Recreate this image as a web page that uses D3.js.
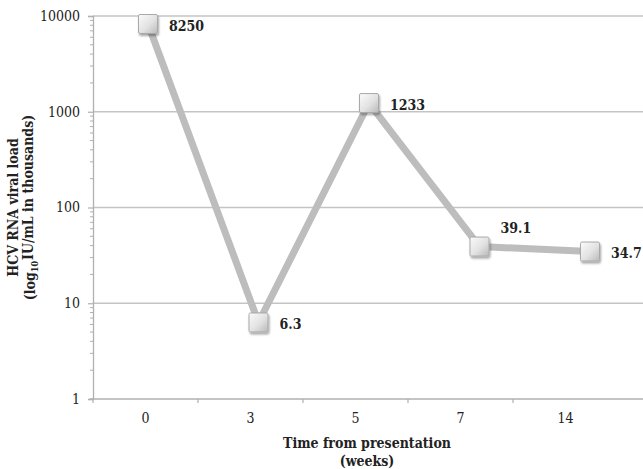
<!DOCTYPE html>
<html>
<head>
<meta charset="utf-8">
<script src="https://cdn.jsdelivr.net/npm/d3@7/dist/d3.min.js"></script>
<style>
  html, body { margin: 0; padding: 0; background: #fff; }
  svg { display: block; }
  text { font-family: "DejaVu Serif", serif; font-stretch: condensed; fill: #222; }
</style>
</head>
<body>
<svg id="chart" width="643" height="469"></svg>
<script>
const categories = ["0", "3", "5", "7", "14"];
const values = [8250, 6.3, 1233, 39.1, 34.7];
const valueLabels = ["8250", "6.3", "1233", "39.1", "34.7"];
const yTicks = [1, 10, 100, 1000, 10000];
const yTickLabels = ["1", "10", "100", "1000", "10000"];
const xTitle = ["Time from presentation", "(weeks)"];

(function () {
const W = 643, H = 469;
const mLeft = 93, mRight = 618, mTop = 16, mBottom = 399;

const svg = d3.select("#chart");

const defs = svg.append("defs");
const grad = defs.append("linearGradient").attr("id", "mg")
  .attr("x1", "0").attr("y1", "0").attr("x2", "1").attr("y2", "1");
grad.append("stop").attr("offset", "0%").attr("stop-color", "#fbfbfb");
grad.append("stop").attr("offset", "55%").attr("stop-color", "#e2e2e2");
grad.append("stop").attr("offset", "100%").attr("stop-color", "#b9b9b9");
const f = defs.append("filter").attr("id", "sh").attr("x", "-40%").attr("y", "-40%").attr("width", "180%").attr("height", "180%");
f.append("feDropShadow").attr("dx", 1).attr("dy", 2).attr("stdDeviation", 1.3).attr("flood-color", "#000").attr("flood-opacity", 0.35);

const y = d3.scaleLog().domain([1, 10000]).range([mBottom, mTop]);
const xBand = d3.scaleBand().domain(categories).range([mLeft, mRight]).padding(0);
const xMark = d3.scalePoint().domain(categories).range([148, 590]);

// gridlines
svg.append("g").selectAll("line").data(yTicks.slice(1)).join("line")
  .attr("x1", mLeft).attr("x2", W)
  .attr("y1", d => y(d)).attr("y2", d => y(d))
  .attr("stroke", "#c4c4c4").attr("stroke-width", 1.3);

// y axis minor ticks
const minor = [];
for (let e = 0; e < 4; e++) for (let m = 2; m <= 9; m++) minor.push(m * Math.pow(10, e));
svg.append("g").selectAll("line").data(minor).join("line")
  .attr("x1", mLeft - 3).attr("x2", mLeft)
  .attr("y1", d => y(d)).attr("y2", d => y(d))
  .attr("stroke", "#b0b0b0").attr("stroke-width", 1);

const yAxis = d3.axisLeft(y).tickValues(yTicks)
  .tickFormat((d, i) => yTickLabels[i]).tickSize(5).tickPadding(8);
const gy = svg.append("g").attr("transform", `translate(${mLeft},0)`).call(yAxis);
gy.select(".domain").attr("stroke", "#b0b0b0").attr("stroke-width", 1.3);
gy.selectAll(".tick line").attr("stroke", "#b0b0b0").attr("stroke-width", 1.2);
gy.selectAll(".tick text").style("font-size", "14px").style("font-family", "DejaVu Serif")
  .style("font-stretch", "condensed").attr("fill", "#222");

// x axis
svg.append("line").attr("x1", mLeft - 3).attr("x2", W).attr("y1", mBottom).attr("y2", mBottom)
  .attr("stroke", "#b0b0b0").attr("stroke-width", 1.3);
const xAxis = d3.axisBottom(xBand).tickSize(0).tickPadding(14);
const gx = svg.append("g").attr("transform", `translate(0,${mBottom})`).call(xAxis);
gx.select(".domain").remove();
gx.selectAll(".tick text").style("font-size", "14px").style("font-family", "DejaVu Serif")
  .style("font-stretch", "condensed").attr("fill", "#222");
svg.append("g").selectAll("line").data(categories).join("line")
  .attr("x1", d => xBand(d)).attr("x2", d => xBand(d))
  .attr("y1", mBottom).attr("y2", mBottom + 4)
  .attr("stroke", "#b0b0b0").attr("stroke-width", 1.2);

// line
const line = d3.line().x((d, i) => xMark(categories[i])).y(d => y(d));
svg.append("path").datum(values).attr("d", line)
  .attr("fill", "none").attr("stroke", "#bdbdbd").attr("stroke-width", 7)
  .attr("stroke-linejoin", "round");

// markers
const s = 19;
svg.append("g").selectAll("rect").data(values).join("rect")
  .attr("x", (d, i) => xMark(categories[i]) - s / 2)
  .attr("y", d => y(d) - s / 2)
  .attr("width", s).attr("height", s).attr("rx", 1.5)
  .attr("fill", "url(#mg)").attr("stroke", "#a9a9a9").attr("stroke-width", 1)
  .attr("filter", "url(#sh)");

// value labels
svg.append("g").selectAll("text").data(values).join("text")
  .attr("x", (d, i) => xMark(categories[i]) + 21)
  .attr("y", (d, i) => y(d) + (i === 3 ? -18 : 2))
  .attr("dy", "0.35em")
  .style("font-size", "14px").style("font-weight", "bold")
  .text((d, i) => valueLabels[i]);

// x title
svg.append("text").attr("x", 367).attr("y", 443).attr("dy", "0.35em")
  .attr("text-anchor", "middle").style("font-size", "14px").style("font-weight", "bold")
  .text(xTitle[0]);
svg.append("text").attr("x", 367).attr("y", 461).attr("dy", "0.35em")
  .attr("text-anchor", "middle").style("font-size", "14px").style("font-weight", "bold")
  .text(xTitle[1]);

// y title
const yt = svg.append("g").attr("transform", `translate(0,${(mTop + mBottom) / 2}) rotate(-90)`);
yt.append("text").attr("x", 0).attr("y", 13).attr("dy", "0.35em")
  .attr("text-anchor", "middle").style("font-size", "14px").style("font-weight", "bold")
  .text("HCV RNA viral load");
const t2 = yt.append("text").attr("x", 0).attr("y", 30).attr("dy", "0.35em")
  .attr("text-anchor", "middle").style("font-size", "14px").style("font-weight", "bold");
t2.append("tspan").text("(log");
t2.append("tspan").text("10").style("font-size", "9px").attr("dy", "0.3em");
t2.append("tspan").text("IU/mL in thousands)").attr("dy", "-0.3em").attr("dx", "1");
})();
</script>
</body>
</html>
